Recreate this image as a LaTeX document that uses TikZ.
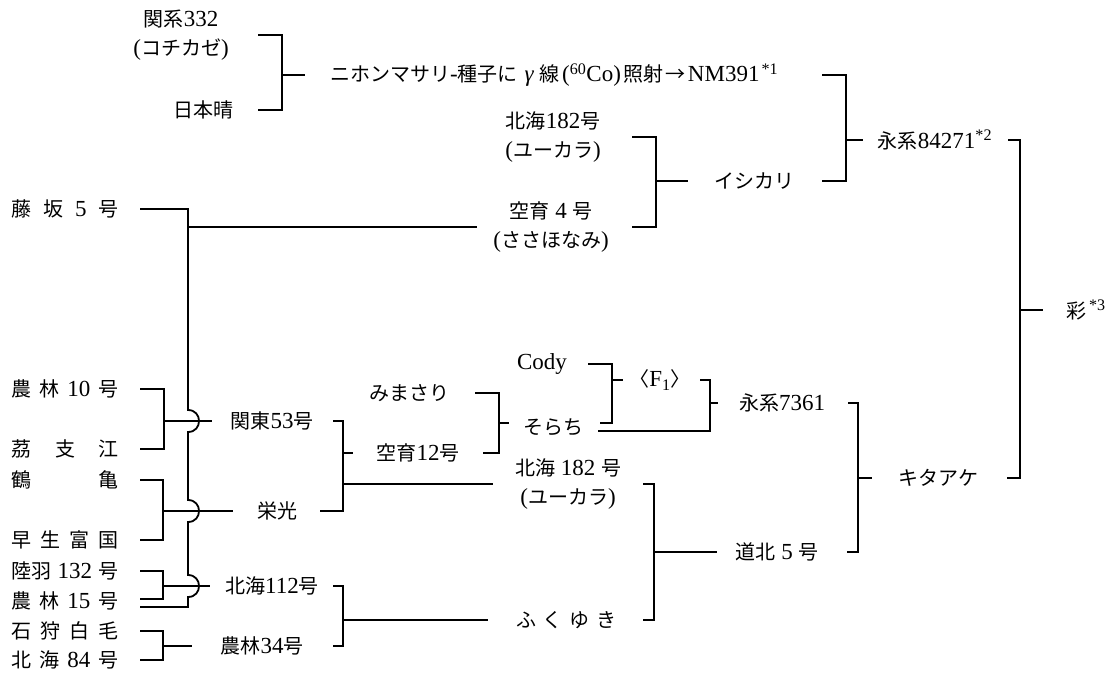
\documentclass[tikz,border=0pt]{standalone}
\usepackage{fontspec}
\setmainfont{Liberation Serif}[Scale=1.15]
\newfontfamily\jpfont{Noto Sans CJK JP}
\newcommand\jp[1]{{\jpfont #1}}
\begin{document}
\begin{tikzpicture}[x=1pt,y=-1pt,
  lbl/.style={inner sep=0pt, outer sep=0pt, font=\fontsize{20pt}{29pt}\selectfont, align=center},
  ln/.style={line width=1.8pt, line join=miter}]
\useasboundingbox (0,0) rectangle (1115,672);
% ---- left column
\node[lbl,anchor=west] (fujisaka) at (12,209) {\makebox[106pt][s]{\jp{藤} \jp{坂} 5 \jp{号}}};
\node[lbl,anchor=west] (norin10) at (12,389) {\makebox[106pt][s]{\jp{農} \jp{林} 10 \jp{号}}};
\node[lbl,anchor=west] (reishi) at (12,449) {\makebox[106pt][s]{\jp{茘} \jp{支} \jp{江}}};
\node[lbl,anchor=west] (tsuru) at (12,480) {\makebox[106pt][s]{\jp{鶴}\hfill\jp{亀}}};
\node[lbl,anchor=west] (wase) at (12,540) {\makebox[106pt][s]{\jp{早} \jp{生} \jp{富} \jp{国}}};
\node[lbl,anchor=west] (rikuu) at (12,571) {\makebox[106pt][s]{\jp{陸羽} 132 \jp{号}}};
\node[lbl,anchor=west] (norin15) at (12,601) {\makebox[106pt][s]{\jp{農} \jp{林} 15 \jp{号}}};
\node[lbl,anchor=west] (ishishiro) at (12,631) {\makebox[106pt][s]{\jp{石} \jp{狩} \jp{白} \jp{毛}}};
\node[lbl,anchor=west] (hok84) at (12,660) {\makebox[106pt][s]{\jp{北} \jp{海} 84 \jp{号}}};
\coordinate (n15a) at ([yshift=2pt]norin15.east);
\coordinate (n15b) at ([yshift=-6pt]norin15.east);
% ---- second column
\node[lbl] (kanto53) at (272,421) {\jp{関東}53\jp{号}};
\node[lbl] (eiko) at (277,511) {\jp{栄光}};
\node[lbl] (hok112) at (272,586) {\jp{北海}112\jp{号}};
\node[lbl] (norin34) at (262,646) {\jp{農林}34\jp{号}};
% ---- top
\node[lbl] (kankei) at (181,35) {\jp{関系}332\\(\jp{コチカゼ})};
\node[lbl] (nihonbare) at (203,110) {\jp{日本晴}};
\node[lbl,anchor=west] (nihon) at (330,75) {\jp{ニホンマサリ}-\jp{種子に}\hspace{7pt}\textit{γ}\hspace{5pt}\jp{線}\hspace{3pt}(\textsuperscript{60}Co)\hspace{3pt}\jp{照射}\hspace{2pt}\jp{→}\hspace{2pt}NM391\hspace{2pt}\textsuperscript{*1}};
\node[lbl] (hokA) at (553,137) {\jp{北海}182\jp{号}\\(\jp{ユーカラ})};
\node[lbl] (kuiku4) at (551,227) {\jp{空育} 4 \jp{号}\\(\jp{ささほなみ})};
\node[lbl] (ishikari) at (754,181) {\jp{イシカリ}};
\node[lbl] (ei84271) at (935,140) {\jp{永系}84271\textsuperscript{*2}};
\node[lbl] (aya) at (1086,310) {\jp{彩}\textsuperscript{\,*3}};
% ---- middle
\node[lbl] (cody) at (542,364) {Cody};
\node[lbl] (f1) at (660,380) {\jp{〈}F\textsubscript{1}\jp{〉}};
\node[lbl] (sorachi) at (553,427) {\jp{そらち}};
\coordinate (soraA) at ([yshift=4pt]sorachi.east);
\coordinate (soraB) at ([yshift=-4pt]sorachi.east);
\node[lbl] (mimasari) at (409,393) {\jp{みまさり}};
\node[lbl] (kuiku12) at (418,453) {\jp{空育}12\jp{号}};
\node[lbl] (hokB) at (568,484) {\jp{北海} 182 \jp{号}\\(\jp{ユーカラ})};
\node[lbl] (fukuyuki) at (566,620) {\makebox[100pt][s]{\jp{ふ} \jp{く} \jp{ゆ} \jp{き}}};
\node[lbl] (ei7361) at (782,403) {\jp{永系}7361};
\node[lbl] (dohoku5) at (777,552) {\jp{道北} 5 \jp{号}};
\node[lbl] (kitaake) at (938,478) {\jp{キタアケ}};
% ---- brackets, top
\draw[ln] (258,0 |- kankei.east) -| (282,0 |- nihon.west) |- (258,0 |- nihonbare.east);
\draw[ln] (282,0 |- nihon.west) -- (305,0 |- nihon.west);
\draw[ln] (822,0 |- nihon.east) -| (846,0 |- ei84271.west) |- (822,0 |- ishikari.east);
\draw[ln] (846,0 |- ei84271.west) -- (863,0 |- ei84271.west);
\draw[ln] (632,0 |- hokA.east) -| (656,0 |- ishikari.west) |- (632,0 |- kuiku4.east);
\draw[ln] (656,0 |- ishikari.west) -- (688,0 |- ishikari.west);
\draw[ln] (1008,0 |- ei84271.east) -| (1020,0 |- aya.west) |- (1007,0 |- kitaake.east);
\draw[ln] (1020,0 |- aya.west) -- (1043,0 |- aya.west);
% ---- brackets, middle
\draw[ln] (848,0 |- ei7361.east) -| (858,0 |- kitaake.west) |- (847,0 |- dohoku5.east);
\draw[ln] (858,0 |- kitaake.west) -- (872,0 |- kitaake.west);
\draw[ln] (588,0 |- cody.east) -| (612,0 |- f1.west) |- (600,0 |- soraA);
\draw[ln] (612,0 |- f1.west) -- (623,0 |- f1.west);
\draw[ln] (700,0 |- f1.east) -| (710,0 |- ei7361.west) |- (598,0 |- soraB);
\draw[ln] (710,0 |- ei7361.west) -- (718,0 |- ei7361.west);
\draw[ln] (475,0 |- mimasari.east) -| (499,0 |- soraA) |- (483,0 |- kuiku12.east);
\draw[ln] (499,0 |- soraA) -- (509,0 |- soraA);
\draw[ln] (333,0 |- kanto53.east) -| (343,0 |- kuiku12.west) |- (320,0 |- eiko.east);
\draw[ln] (343,0 |- kuiku12.west) -- (353,0 |- kuiku12.west);
\draw[ln] (343,0 |- hokB.west) -- (493,0 |- hokB.west);
\draw[ln] (643,0 |- hokB.east) -| (654,0 |- dohoku5.west) |- (643,0 |- fukuyuki.east);
\draw[ln] (654,0 |- dohoku5.west) -- (717,0 |- dohoku5.west);
\draw[ln] (333,0 |- hok112.east) -| (343,0 |- fukuyuki.west) |- (333,0 |- norin34.east);
\draw[ln] (343,0 |- fukuyuki.west) -- (488,0 |- fukuyuki.west);
% ---- brackets, left
\draw[ln] (140,0 |- norin10.east) -| (164,0 |- kanto53.west) |- (140,0 |- reishi.east);
\draw[ln] (164,0 |- kanto53.west) -- (212,0 |- kanto53.west);
\draw[ln] (140,0 |- tsuru.east) -| (163,0 |- eiko.west) |- (140,0 |- wase.east);
\draw[ln] (163,0 |- eiko.west) -- (233,0 |- eiko.west);
\draw[ln] (140,0 |- rikuu.east) -| (163,0 |- hok112.west) |- (140,0 |- n15a);
\draw[ln] (163,0 |- hok112.west) -- (210,0 |- hok112.west);
\draw[ln] (140,0 |- ishishiro.east) -| (163,0 |- norin34.west) |- (140,0 |- hok84.east);
\draw[ln] (163,0 |- norin34.west) -- (192,0 |- norin34.west);
% ---- spine from 藤坂5号 to 農林15号 with hops
\draw[ln] (140,0 |- fujisaka.east) -- (188,0 |- fujisaka.east) -- (188,410)
  .. controls (202.7,410) and (202.7,432) .. (188,432) -- (188,500)
  .. controls (202.7,500) and (202.7,522) .. (188,522) -- (188,575)
  .. controls (202.7,575) and (202.7,597) .. (188,597) -- (188,0 |- n15b) -- (140,0 |- n15b);
\draw[ln] (188,0 |- kuiku4.west) -- (477,0 |- kuiku4.west);
\end{tikzpicture}
\end{document}
